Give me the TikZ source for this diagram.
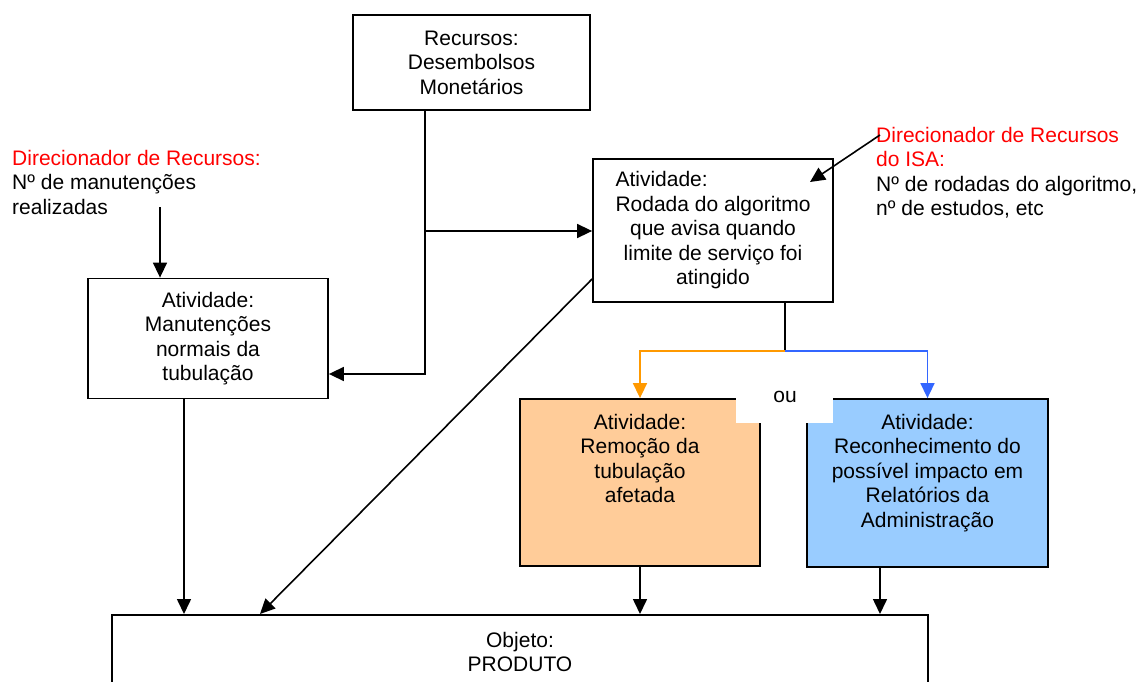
\documentclass[tikz,border=0pt]{standalone}
\usepackage{fontspec}
\setmainfont{Liberation Sans}
\usepackage{calc}
\usetikzlibrary{arrows.meta}
\definecolor{orangefill}{HTML}{FFCC99}
\definecolor{bluefill}{HTML}{99CCFF}
\definecolor{orangeline}{HTML}{FF9900}
\definecolor{blueline}{HTML}{3366FF}
\begin{document}
\begin{tikzpicture}[x=1pt,y=-1pt,
  every node/.append style={font=\fontsize{21}{24.5}\selectfont},
  box/.style={draw, line width=1.8pt, inner sep=0pt, align=center},
  txt/.style={inner sep=0pt, align=center},
  conn/.style={line width=1.6pt},
  arr/.style={conn, -{Triangle[length=15pt,width=14pt]}}]
\clip (0,0) rectangle (1143,682);
\fill[white] (0,0) rectangle (1143,682);
% boxes
\node[box, minimum width=237, minimum height=95] (res) at (471.5,62.5)
  {Recursos:\\Desembolsos\\Monetários};
\node[box, minimum width=240, minimum height=143] (alg) at (713,230.5)
  {\makebox[\widthof{Rodada do algoritmo}][l]{Atividade:}\\Rodada do algoritmo\\que avisa quando\\limite de serviço foi\\atingido};
\node[box, minimum width=240, minimum height=120] (man) at (208,338.5)
  {Atividade:\\Manutenções\\normais da\\tubulação};
\node[box, fill=orangefill, minimum width=240, minimum height=167] (rem) at (640,482.5) {};
\node[txt, anchor=north] (remt) at (640,414)
  {Atividade:\\Remoção da\\tubulação\\afetada};
\node[box, fill=bluefill, minimum width=241, minimum height=168] (rec) at (927.5,483) {};
\node[txt, anchor=north] (rect) at (927.5,414)
  {Atividade:\\Reconhecimento do\\possível impacto em\\Relatórios da\\Administração};
\node[fill=white, inner sep=0pt, minimum width=97, minimum height=25] (ouw) at (784.5,410) {};
\node[txt] (ou) at (785,397) {ou};
\node[box, minimum width=816, minimum height=150, anchor=north] (obj) at (520,614) {};
\node[txt] (objt) at (520,652) {Objeto:\\PRODUTO};
% driver labels
\node[txt, anchor=north west, align=left] (dl) at (12,150)
  {\textcolor{red}{Direcionador de Recursos:}\\Nº de manutenções\\realizadas};
\node[txt, anchor=north west, align=left] (dr) at (876,127)
  {\textcolor{red}{Direcionador de Recursos}\\\textcolor{red}{do ISA:}\\Nº de rodadas do algoritmo,\\nº de estudos, etc};
% connectors
\coordinate (j1) at (425,374);
\coordinate (j2) at (425,231);
\draw[arr] (425,0 |- res.south) -- (j1) -- (j1 -| man.east);
\draw[arr] (j2) -- (j2 -| alg.west);
\coordinate (d1) at (160,207);
\draw[arr] (d1) -- (d1 |- man.north);
\coordinate (d2s) at (880,135);
\coordinate (d2e) at (810,182);
\draw[arr] (d2s) -- (d2e);
\coordinate (br) at (785,351);
\draw[conn] (785,0 |- alg.south) -- (br);
\draw[arr, orangeline] (br) -- (br -| rem.north) -- (rem.north);
\draw[arr, blueline] (br) -- (br -| rec.north) -- (rec.north);
\coordinate (dg) at (593,279);
\draw[arr] (dg -| alg.west) -- (260,0 |- obj.north);
\draw[arr] (184,0 |- man.south) -- (184,0 |- obj.north);
\draw[arr] (rem.south) -- (rem.south |- obj.north);
\draw[arr] (880,0 |- rec.south) -- (880,0 |- obj.north);
\end{tikzpicture}
\end{document}
